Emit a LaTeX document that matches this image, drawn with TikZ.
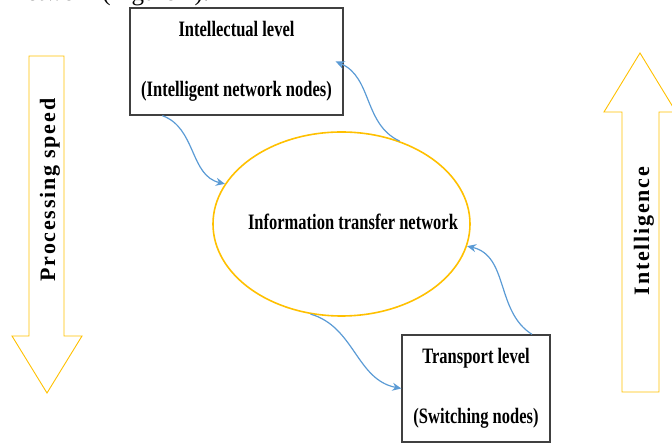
\documentclass[tikz,border=0pt]{standalone}
\usepackage{fontspec}
\setmainfont{Liberation Serif}
\newfontfamily\boxfont[FakeStretch=0.75]{Liberation Serif}
\newfontfamily\sidefont[LetterSpace=8]{Liberation Serif}
\usetikzlibrary{shapes.geometric,arrows.meta}

\definecolor{gold}{RGB}{255,192,0}
\definecolor{linkblue}{RGB}{91,155,213}

\tikzset{
  levelbox/.style={draw=black!75, line width=1.3pt, fill=white, align=center,
    font=\boxfont\bfseries\fontsize{22}{26}\selectfont},
  link/.style={draw=linkblue, line width=1.2pt, -{Stealth[length=9pt,width=8pt]}},
  sidearrow/.style={draw=gold, line width=0.9pt},
  sidelabel/.style={rotate=90, font=\sidefont\bfseries\fontsize{22}{26}\selectfont}
}

\begin{document}
\begin{tikzpicture}[x=1pt, y=1pt]

\useasboundingbox (0,0) rectangle (672,443);

\begin{scope}
\clip (0,0) rectangle (672,443);
\node[anchor=base west, inner sep=0pt, font=\fontsize{25}{30}\selectfont] (caption) at (14,442) {network (Figure 1).};
\end{scope}

\node[levelbox, minimum width=213pt, minimum height=107pt] (intel) at (236.5,381.5)
  {Intellectual level\\[34pt](Intelligent network nodes)};
\node[levelbox, minimum width=148pt, minimum height=107pt] (trans) at (476,54.5)
  {Transport level\\[34pt](Switching nodes)};

\node[ellipse, draw=gold, line width=1.6pt, minimum width=257pt, minimum height=184pt] (net) at (341.5,219) {};
\node[font=\boxfont\bfseries\fontsize{22}{26}\selectfont] (nettext) at (353,221) {Information transfer network};

% side arrows
\draw[sidearrow] (29,387) -- (64,387) -- (64,107) -- (82,107) -- (47,50) -- (12,107) -- (29,107) -- cycle;
\draw[sidearrow] (622,51) -- (659,51) -- (659,331) -- (676,331) -- (640,390) -- (604,331) -- (622,331) -- cycle;

\node[sidelabel] (speed) at (50,253) {Processing speed};
\node[sidelabel] (intelligence) at (644,212) {Intelligence};

% links
\draw[link] ([xshift=33pt]intel.south west) to[out=-20, in=167] (net.161);
\draw[link] (net.55) to[out=155, in=-23] ([xshift=-8pt]intel.east);
\draw[link] (net.251) to[out=-16, in=169] (trans.west);
\draw[link] ([xshift=56pt]trans.north) to[out=148, in=-13] (net.-10);

\end{tikzpicture}
\end{document}
